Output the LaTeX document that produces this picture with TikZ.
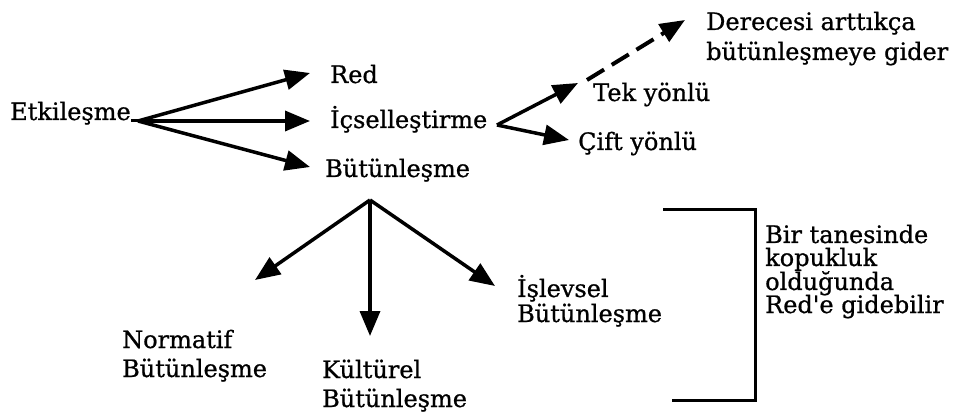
\documentclass[tikz,border=0pt]{standalone}
\usepackage{fontspec}
\setmainfont[FakeBold=0.8]{DejaVu Serif}
\usetikzlibrary{arrows.meta}
\tikzset{
  lbl/.style={anchor=base west, inner sep=0pt, font=\fontsize{24}{28}\selectfont},
  arr/.style={line width=3.5pt, -{Triangle[length=25pt,width=20pt]}},
  dasharr/.style={line width=4pt, dash pattern=on 20pt off 9pt, -{Triangle[length=25pt,width=20pt]}},
  brk/.style={line width=3pt}
}
\begin{document}
\begin{tikzpicture}[x=1pt,y=-1pt]
\path[use as bounding box] (0,0) rectangle (959,414);
% labels
\node[lbl] (etk) at (10,120) {Etkileşme};
\node[lbl] (red) at (330,83) {Red};
\node[lbl] (ics) at (330,128) {İçselleştirme};
\node[lbl] (but) at (325,177) {Bütünleşme};
\node[lbl] (tek) at (593,101) {Tek yönlü};
\node[lbl] (cift) at (578,150) {Çift yönlü};
\node[lbl] (der1) at (706,30) {Derecesi arttıkça};
\node[lbl] (der2) at (706,60) {bütünleşmeye gider};
\node[lbl] (isl1) at (517,297) {İşlevsel};
\node[lbl] (isl2) at (517,322) {Bütünleşme};
\node[lbl] (nor1) at (122,348) {Normatif};
\node[lbl] (nor2) at (122,377) {Bütünleşme};
\node[lbl] (kul1) at (322,378) {Kültürel};
\node[lbl] (kul2) at (322,407) {Bütünleşme};
\node[lbl] (bir1) at (765,243) {Bir tanesinde};
\node[lbl] (bir2) at (765,266) {kopukluk};
\node[lbl] (bir3) at (765,290) {olduğunda};
\node[lbl] (bir4) at (765,313) {Red{\addfontfeatures{Ligatures=TeXOff}'}e gidebilir};
% fork points and arrow ends
\coordinate (o1) at (138,121);
\coordinate (t1) at (310,73);
\coordinate (t2) at (310,121);
\coordinate (t3) at (310,167);
\coordinate (o2) at (497,125);
\coordinate (t4) at (578,83);
\coordinate (t5) at (569,140);
\coordinate (d0) at (587,80);
\coordinate (d1) at (685,20);
\coordinate (o3) at (370,200);
\coordinate (t6) at (255,280);
\coordinate (t7) at (370,336);
\coordinate (t8) at (495,286);
% connectors
\draw[line width=3pt] (etk.base east) ++(0,1) -- (o1);
\draw[arr] (o1) -- (t1);
\draw[arr] (o1) -- (t2);
\draw[arr] (o1) -- (t3);
\draw[arr] (o2) -- (t4);
\draw[arr] (o2) -- (t5);
\draw[dasharr] (d0) -- (d1);
\draw[arr] (o3) -- (t6);
\draw[arr] (o3) -- (t7);
\draw[arr] (o3) -- (t8);
% bracket
\draw[brk] (663,210) -- (755,210) -- (755,400) -- (672,400);
\end{tikzpicture}
\end{document}
